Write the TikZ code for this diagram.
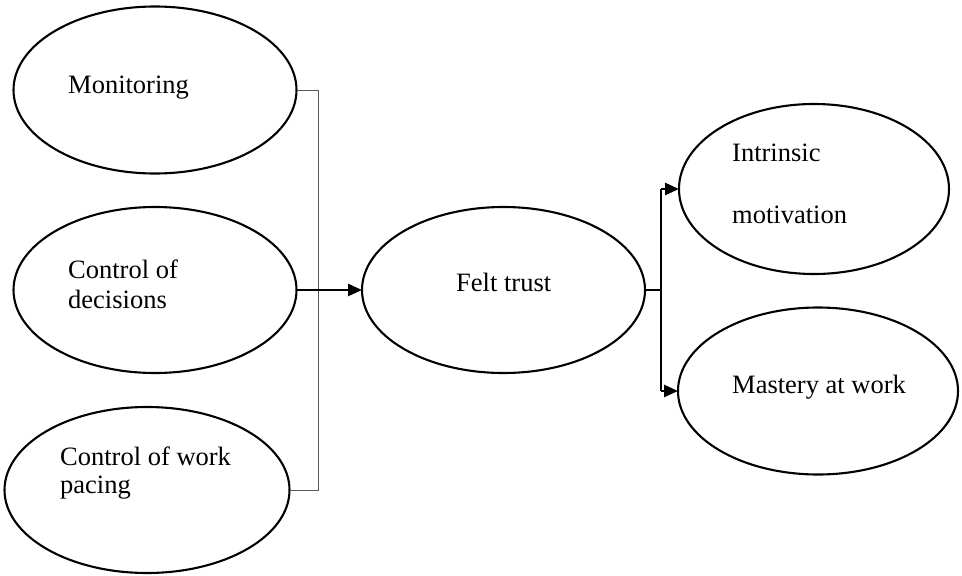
\documentclass[tikz,border=0pt]{standalone}
\usepackage{fontspec}
\setmainfont{Liberation Serif}
\usetikzlibrary{shapes.geometric,arrows.meta}
\begin{document}
\begin{tikzpicture}[x=1pt,y=-1pt,
  ell/.style={draw=black,line width=2.1pt,ellipse,inner sep=0pt,outer sep=0pt},
  lbl/.style={anchor=base west,inner sep=0pt,font=\fontsize{26.5}{30}\selectfont},
  brk/.style={draw=black!65,line width=1pt},
  arr/.style={draw=black,line width=2.6pt,-{Triangle[length=14pt,width=12pt]}},
  stub/.style={draw=black,line width=2.6pt}]
\useasboundingbox (0,0) rectangle (962,576);
\fill[white] (0,0) rectangle (962,576);
% ellipses
\node[ell,minimum width=283pt,minimum height=167pt] (mon) at (155,90) {};
\node[ell,minimum width=283pt,minimum height=166pt] (cd) at (155,290) {};
\node[ell,minimum width=285pt,minimum height=166pt] (cwp) at (147,490) {};
\node[ell,minimum width=283pt,minimum height=166pt] (ft) at (503.5,290) {};
\node[ell,minimum width=270pt,minimum height=170pt] (im) at (814,189) {};
\node[ell,minimum width=280pt,minimum height=167pt] (ma) at (818,391) {};
% labels
\node[lbl] (tmon) at (68,93) {Monitoring};
\node[lbl] (tcd1) at (68,278) {Control of};
\node[lbl] (tcd2) at (68,308) {decisions};
\node[lbl] (tcw1) at (60,465) {Control of work};
\node[lbl] (tcw2) at (60,493) {pacing};
\node[lbl] (tft) at (456,291) {Felt trust};
\node[lbl] (tim1) at (732,161) {Intrinsic};
\node[lbl] (tim2) at (732,223) {motivation};
\node[lbl] (tma) at (732,393) {Mastery at work};
% left bracket
\draw[brk] (mon.east) -- ++(22,0) coordinate (bt) |- (cwp.east);
\draw[arr] (cd.east) -- (cd.east -| ft.west);
% right fork
\draw[stub] (ft.east) -- ++(16,0) coordinate (j);
\draw[stub] (j |- im.west) -- (j |- ma.west);
\draw[arr] (j |- im.west) -- (im.west);
\draw[arr] (j |- ma.west) -- (ma.west);
\end{tikzpicture}
\end{document}
